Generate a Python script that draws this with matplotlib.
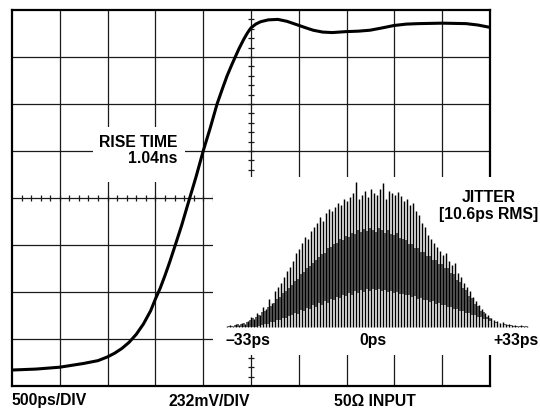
import numpy as np
import matplotlib
matplotlib.use("Agg")
import matplotlib.pyplot as plt
from matplotlib.patches import Rectangle

plt.rcParams['font.family'] = ['Liberation Sans', 'DejaVu Sans']
plt.rcParams['font.weight'] = 'bold'

# rise waveform, in screen divisions (500ps/DIV horizontal, 232mV/DIV vertical)
rise_t = [0, 0.5, 1.0, 1.5, 1.8, 2.0, 2.15, 2.3, 2.45, 2.6, 2.75, 2.9, 3.0, 3.1,
          3.2, 3.3, 3.41, 3.55, 3.68, 3.85, 4.0, 4.15, 4.29, 4.4, 4.5, 4.6, 4.67,
          4.75, 4.85, 4.93, 5.0, 5.1, 5.2, 5.36, 5.56, 5.75, 5.98, 6.15, 6.3, 6.5,
          6.7, 6.99, 7.25, 7.49, 7.75, 7.99, 8.25, 8.5, 9.0, 9.5, 9.75, 10.0]
rise_v = [0.34, 0.36, 0.40, 0.48, 0.54, 0.62, 0.70, 0.80, 0.93, 1.10, 1.32, 1.60,
          1.85, 2.08, 2.35, 2.64, 2.98, 3.42, 3.87, 4.45, 5.0, 5.5, 6.0, 6.32, 6.6,
          6.84, 7.0, 7.18, 7.38, 7.52, 7.62, 7.70, 7.75, 7.79, 7.80, 7.76, 7.68,
          7.62, 7.57, 7.53, 7.52, 7.54, 7.55, 7.57, 7.62, 7.67, 7.70, 7.71, 7.72,
          7.71, 7.68, 7.63]

# jitter histogram, tall comb lines (hits)
jit_tall = [1, 2, 1, 3, 2, 4, 3, 6, 10, 8, 14, 12, 20, 18, 28, 24, 36, 40, 44, 50,
            56, 60, 66, 74, 78, 84, 90, 88, 96, 100, 104, 110, 106, 114, 118, 116,
            120, 124, 122, 128, 126, 130, 134, 145, 128, 132, 136, 130, 138, 134,
            132, 138, 144, 128, 136, 134, 132, 135, 131, 126, 128, 122, 124, 116,
            112, 104, 100, 92, 88, 84, 80, 76, 72, 74, 66, 62, 64, 54, 50, 44, 40,
            36, 30, 26, 22, 18, 14, 12, 9, 7, 6, 4, 5, 3, 3, 2, 2, 1, 2, 1, 1]
# dense middle band between comb lines: upper and lower edges
jit_band_hi = [1, 1, 2, 3, 3, 4, 5, 7, 9, 10, 12, 15, 16, 20, 21, 24, 28, 30, 34, 36,
               39, 42, 46, 48, 53, 55, 59, 61, 64, 67, 70, 73, 74, 79, 80, 83, 84, 88,
               87, 91, 90, 94, 93, 97, 95, 98, 96, 99, 97, 95, 99, 97, 94, 97, 93, 92,
               94, 89, 88, 87, 83, 83, 79, 79, 75, 75, 71, 71, 67, 67, 63, 63, 59, 59,
               54, 53, 47, 45, 39, 37, 31, 29, 23, 21, 16, 15, 10, 9, 6, 5, 4, 3, 3,
               2, 2, 1, 1, 1, 1, 1]
jit_band_lo = [0, 0, 0, 0, 0, 0, 0, 0, 0, 0, 1, 2, 3, 3, 5, 5, 7, 7, 9, 9, 11, 12,
               14, 13, 17, 16, 19, 18, 22, 20, 24, 22, 26, 24, 28, 27, 30, 29, 32, 31,
               34, 32, 36, 34, 37, 35, 38, 36, 38, 37, 38, 36, 37, 35, 36, 34, 35, 33,
               33, 32, 32, 30, 31, 28, 29, 27, 27, 25, 26, 23, 24, 22, 22, 20, 20, 18,
               18, 16, 16, 14, 14, 12, 12, 10, 10, 8, 8, 6, 6, 4, 4, 3, 2, 1, 1, 0, 0,
               0, 0, 0]

W, H = 540, 408
fig = plt.figure(figsize=(W / 100, H / 100), dpi=100)
ax = fig.add_axes([12 / W, (H - 386) / H, 478 / W, 376 / H])
ax.set_xlim(0, 10)
ax.set_ylim(0, 8)
ax.set_xticks([])
ax.set_yticks([])
for s in ax.spines.values():
    s.set_linewidth(1.6)

# graticule
for gx in range(1, 10):
    ax.axvline(gx, color='#1a1a1a', lw=0.9)
for gy in range(1, 8):
    ax.axhline(gy, color='#1a1a1a', lw=0.9)
ticks = np.arange(0.2, 10, 0.2)
ax.plot(ticks, np.full_like(ticks, 4), ls='none', marker='|', ms=5, mew=0.9, color='#1a1a1a')
vt = np.arange(0.2, 8, 0.2)
ax.plot(np.full_like(vt, 5), vt, ls='none', marker='_', ms=5, mew=0.9, color='#1a1a1a')

fs = 11.3
# white patch behind the rise time label
ax.add_patch(Rectangle((1.69, 4.34), 1.93, 1.17, facecolor='white', edgecolor='none', zorder=3))
ax.text(3.47, 5.18, 'RISE TIME', ha='right', va='center', fontsize=fs, fontweight='bold', zorder=4)
ax.text(3.47, 4.83, '1.04ns', ha='right', va='center', fontsize=fs, fontweight='bold', zorder=4)

ax.plot(rise_t, rise_v, color='black', lw=2.2, zorder=5, solid_capstyle='round',
        solid_joinstyle='round')

# jitter inset
ins = fig.add_axes([213 / W, (H - 355) / H, (W - 213) / W, 178 / H])
ins.set_facecolor('white')
for s in ins.spines.values():
    s.set_visible(False)
ins.set_xticks([])
ins.set_yticks([])
ins.set_xlim((213 - 227) / 3, (540 - 227) / 3)
ins.set_ylim(-28, 150)
xt = np.arange(len(jit_tall))
xb = xt[:-1] + 0.5
ins.vlines(xb, jit_band_lo, jit_band_hi, color='#444444', lw=1.2)
ins.vlines(xt, 0, jit_tall, color='black', lw=1.05)

ins.text((226 - 227) / 3, -13, '\u201333ps', ha='left', va='center', fontsize=fs, fontweight='bold')
ins.text((373 - 227) / 3, -13, '0ps', ha='center', va='center', fontsize=fs, fontweight='bold')
ins.text((539 - 227) / 3, -13, '+33ps', ha='right', va='center', fontsize=fs, fontweight='bold')
ins.text((489 - 227) / 3, 327 - 197, 'JITTER', ha='center', va='center', fontsize=fs, fontweight='bold')
ins.text((489 - 227) / 3, 327 - 214, '[10.6ps RMS]', ha='center', va='center', fontsize=fs, fontweight='bold')

# bottom captions
fig.text(12 / W, 1 - 401 / H, '500ps/DIV', ha='left', va='center', fontsize=fs, fontweight='bold')
fig.text(209 / W, 1 - 401 / H, '232mV/DIV', ha='center', va='center', fontsize=fs, fontweight='bold')
fig.text(375 / W, 1 - 401 / H, '50\u03a9 INPUT', ha='center', va='center', fontsize=fs, fontweight='bold')

fig.savefig('out.png', dpi=100)
